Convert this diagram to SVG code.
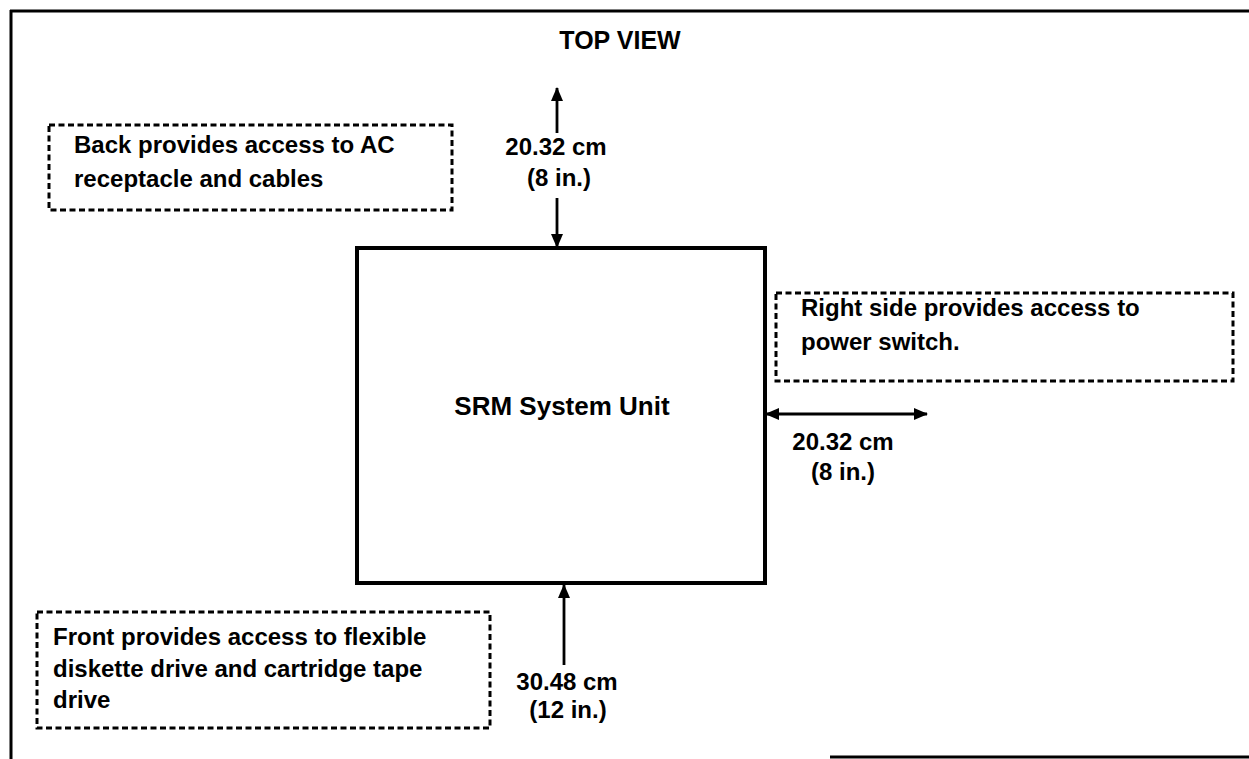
<svg xmlns="http://www.w3.org/2000/svg" width="1249" height="759" viewBox="0 0 1249 759">
<style>
  text { font-family: "Liberation Sans", Arial, Helvetica, sans-serif; font-weight: bold; fill: #000; }
  .t { font-size: 24px; }
  .c { text-anchor: middle; }
  .note { fill: none; stroke: #000; stroke-width: 3; stroke-dasharray: 6 3.5; }
  .unit { fill: #fff; stroke: #000; stroke-width: 4; }
  .arr { stroke: #000; stroke-width: 2.8; fill: none; }
  .frame { stroke: #000; stroke-width: 3; fill: none; }
</style>
<defs>
  <marker id="ah" viewBox="0 0 14 12" refX="13" refY="6" markerWidth="14" markerHeight="12" markerUnits="userSpaceOnUse" orient="auto-start-reverse">
    <path d="M0,0 L14,6 L0,12 z" fill="#000"/>
  </marker>
</defs>
<rect width="1249" height="759" fill="#fff"/>
<g id="frame">
  <line class="frame" x1="10" y1="11" x2="1249" y2="11"/>
  <line class="frame" x1="11" y1="10" x2="11" y2="759"/>
  <line class="frame" x1="830" y1="757" x2="1249" y2="757" stroke-width="2"/>
</g>
<g id="title">
  <text x="620" y="49" class="c" font-size="25">TOP VIEW</text>
</g>
<g id="back-note">
  <rect class="note" x="49" y="125" width="403" height="85"/>
  <text class="t" x="74" y="153">Back provides access to AC</text>
  <text class="t" x="74" y="187">receptacle and cables</text>
</g>
<g id="right-note">
  <rect class="note" x="776" y="293" width="457" height="88"/>
  <text class="t" x="801" y="316">Right side provides access to</text>
  <text class="t" x="801" y="350">power switch.</text>
</g>
<g id="front-note">
  <rect class="note" x="37" y="612" width="453" height="116"/>
  <text class="t" x="53" y="645">Front provides access to flexible</text>
  <text class="t" x="53" y="677">diskette drive and cartridge tape</text>
  <text class="t" x="53" y="708">drive</text>
</g>
<g id="system-unit">
  <rect class="unit" x="357" y="248" width="408" height="335"/>
  <text x="562" y="415" class="c" font-size="26">SRM System Unit</text>
</g>
<g id="connectors">
  <line class="arr" x1="557" y1="133" x2="557" y2="88" marker-end="url(#ah)"/>
  <line class="arr" x1="557" y1="198" x2="557" y2="247" marker-end="url(#ah)"/>
  <line class="arr" x1="766" y1="414" x2="927" y2="414" marker-start="url(#ah)" marker-end="url(#ah)"/>
  <line class="arr" x1="564" y1="665" x2="564" y2="585" marker-end="url(#ah)"/>
</g>
<g id="labels">
  <text class="t c" x="556" y="155">20.32 cm</text>
  <text class="t c" x="559" y="186">(8 in.)</text>
  <text class="t c" x="843" y="450">20.32 cm</text>
  <text class="t c" x="843" y="480">(8 in.)</text>
  <text class="t c" x="567" y="690">30.48 cm</text>
  <text class="t c" x="568" y="718">(12 in.)</text>
</g>
</svg>
